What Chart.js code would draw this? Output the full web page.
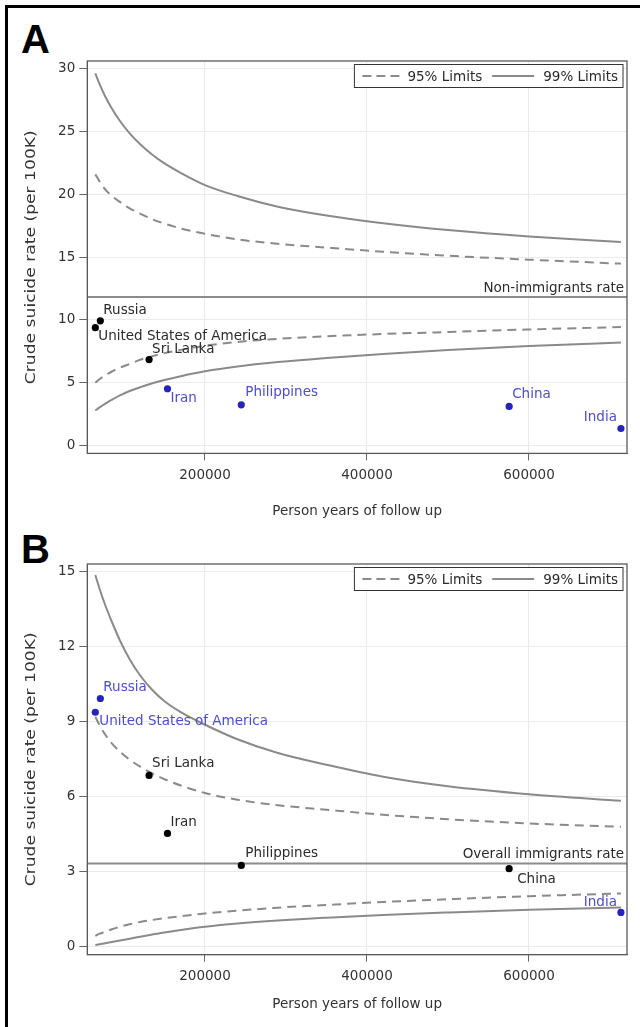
<!DOCTYPE html>
<html lang="en">
<head>
  <meta charset="UTF-8">
  <title>Crude suicide rate funnel plots</title>
  <script src="https://cdn.jsdelivr.net/npm/chart.js@4.4.1/dist/chart.umd.min.js"></script>
  <style>
    html, body { margin: 0; padding: 0; background: #fff; }
    body { width: 640px; height: 1027px; position: relative; overflow: hidden; }
    #frame {
      position: absolute; left: 5px; top: 5px; width: 700px; height: 1100px;
      border-left: 3px solid #000; border-top: 3px solid #000;
    }
    .panel-letter {
      position: absolute; left: 21px;
      font: bold 40px "Liberation Sans", Arial, sans-serif; line-height: 40px; color: #000;
    }
    canvas { position: absolute; left: 0; }
  </style>
</head>
<body>
  <div id="frame"></div>
  <div class="panel-letter" style="top:19px">A</div>
  <div class="panel-letter" style="top:529px">B</div>
  <canvas id="chartA" width="640" height="525" style="top:0"></canvas>
  <canvas id="chartB" width="640" height="502" style="top:525px"></canvas>

  <script>
    // countries, person years of follow up and crude rate (per 100K)
    const countries = ['Russia', 'United States of America', 'Sri Lanka', 'Iran', 'Philippines', 'China', 'India'];
    const personYears = [70800, 64600, 131000, 153700, 244800, 575500, 713500];
    const crudeRate = [9.93, 9.38, 6.85, 4.53, 3.25, 3.12, 1.37];

    // control limits, read along the person-years axis
    const limitYears = [64600, 70000, 77000, 85000, 95000, 107000, 120000, 135000, 150000, 170000,
                        200000, 240000, 290000, 350000, 420000, 500000, 600000, 713500];

    // panel A: against the non-immigrants rate
    const nonImmigrantRate = 11.83;
    const upper99A = [29.6, 28.72, 27.74, 26.8, 25.81, 24.83, 23.96, 23.13, 22.44, 21.69,
                      20.72, 19.85, 19.0, 18.3, 17.69, 17.15, 16.64, 16.2];
    const upper95A = [21.57, 21.0, 20.35, 19.85, 19.38, 18.87, 18.45, 18.0, 17.65, 17.27,
                      16.85, 16.4, 16.05, 15.75, 15.42, 15.1, 14.79, 14.47];
    const lower95A = [5.0, 5.3, 5.6, 5.9, 6.2, 6.5, 6.83, 7.12, 7.36, 7.62,
                      7.95, 8.25, 8.5, 8.7, 8.88, 9.04, 9.24, 9.43];
    const lower99A = [2.8, 3.05, 3.35, 3.65, 4.0, 4.35, 4.65, 4.97, 5.23, 5.53,
                      5.92, 6.3, 6.65, 6.98, 7.3, 7.6, 7.92, 8.2];

    // panel B: against the overall immigrants rate
    const immigrantRate = 3.33;
    const upper99B = [14.87, 14.3, 13.65, 13.0, 12.25, 11.5, 10.85, 10.27, 9.82, 9.38,
                      8.88, 8.3, 7.75, 7.28, 6.8, 6.42, 6.1, 5.84];
    const upper95B = [9.2, 8.85, 8.48, 8.13, 7.8, 7.48, 7.2, 6.93, 6.7, 6.45,
                      6.15, 5.88, 5.66, 5.48, 5.28, 5.1, 4.93, 4.8];
    const lower95B = [0.43, 0.52, 0.6, 0.7, 0.8, 0.9, 0.99, 1.07, 1.14, 1.22,
                      1.33, 1.44, 1.56, 1.67, 1.79, 1.9, 2.02, 2.13];
    const lower99B = [0.07, 0.1, 0.14, 0.19, 0.25, 0.32, 0.4, 0.49, 0.57, 0.67,
                      0.8, 0.93, 1.05, 1.16, 1.27, 1.37, 1.48, 1.57];

    const xTicks = [200000, 400000, 600000];
    const yTicksA = [0, 5, 10, 15, 20, 25, 30];
    const yTicksB = [0, 3, 6, 9, 12, 15];

    const FONT = '"DejaVu Sans", sans-serif';
    const FONT_SIZE = 13.5;
    const BLUE_PT = '#2424b8';
    const BLUE_TX = '#4d4dcc';
    const BLACK_PT = '#000';
    const BLACK_TX = '#2b2b2b';

    Chart.defaults.font.family = FONT;
    Chart.defaults.font.size = FONT_SIZE;
    Chart.defaults.color = '#333';

    const limitPoints = values => limitYears.map((x, i) => ({ x, y: values[i] }));

    // frame round the plot, y title, reference line label and the legend box
    const framePlugin = {
      id: 'frame',
      afterDraw(chart, args, opts) {
        const { ctx, chartArea: a } = chart;
        ctx.save();
        ctx.strokeStyle = '#5a5a5a';
        ctx.lineWidth = 1.3;
        ctx.strokeRect(a.left, a.top, a.right - a.left, a.bottom - a.top);

        ctx.font = FONT_SIZE + 'px ' + FONT;
        ctx.fillStyle = '#333';

        // y axis title, drawn a little drawn-out along its length like the original
        ctx.save();
        ctx.translate(31, (a.top + a.bottom) / 2);
        ctx.rotate(-Math.PI / 2);
        ctx.scale(1.27, 1);
        ctx.textAlign = 'center';
        ctx.textBaseline = 'middle';
        ctx.fillText('Crude suicide rate (per 100K)', 0, 0);
        ctx.restore();

        ctx.fillStyle = '#2b2b2b';
        const ry = chart.scales.y.getPixelForValue(opts.rate);
        ctx.textAlign = 'right';
        ctx.textBaseline = 'alphabetic';
        ctx.fillText(opts.rateLabel, a.right - 3, ry - 5);

        // legend
        const right = a.right - 4, top = a.top + 3.5, h = 23, midY = top + h / 2;
        const w99 = ctx.measureText('99% Limits').width;
        const w95 = ctx.measureText('95% Limits').width;
        const t99 = right - 5 - w99;
        const solidEnd = t99 - 9, solidStart = solidEnd - 42;
        const t95 = solidStart - 10 - w95;
        const dashEnd = t95 - 8, dashStart = dashEnd - 37;
        const boxLeft = dashStart - 8;
        ctx.fillStyle = '#fff';
        ctx.fillRect(boxLeft, top, right - boxLeft, h);
        ctx.strokeStyle = '#333';
        ctx.lineWidth = 1;
        ctx.strokeRect(boxLeft, top, right - boxLeft, h);
        ctx.strokeStyle = '#8a8a8a';
        ctx.lineWidth = 2;
        ctx.setLineDash([9, 5]);
        ctx.beginPath(); ctx.moveTo(dashStart, midY); ctx.lineTo(dashEnd, midY); ctx.stroke();
        ctx.setLineDash([]);
        ctx.beginPath(); ctx.moveTo(solidStart, midY); ctx.lineTo(solidEnd, midY); ctx.stroke();
        ctx.fillStyle = '#2b2b2b';
        ctx.textAlign = 'left';
        ctx.textBaseline = 'middle';
        ctx.fillText('95% Limits', t95, midY + 1);
        ctx.fillText('99% Limits', t99, midY + 1);
        ctx.restore();
      }
    };

    // country names next to the points
    const labelPlugin = {
      id: 'pointLabels',
      afterDatasetsDraw(chart, args, opts) {
        const ctx = chart.ctx;
        const meta = chart.getDatasetMeta(0);
        ctx.save();
        ctx.font = FONT_SIZE + 'px ' + FONT;
        ctx.textBaseline = 'middle';
        meta.data.forEach((pt, i) => {
          const [dx, dy] = opts.offsets[i];
          ctx.fillStyle = opts.colors[i];
          ctx.textAlign = dx < 0 ? 'right' : 'left';
          ctx.fillText(countries[i], pt.x + dx, pt.y + dy);
        });
        ctx.restore();
      }
    };

    const limitLine = { borderColor: '#8a8a8a', borderWidth: 2, pointRadius: 0, fill: false, cubicInterpolationMode: 'monotone', order: 2 };

    function buildChart(id, p) {
      const xMin = 54700, xMax = 721000;
      return new Chart(document.getElementById(id), {
        type: 'line',
        data: {
          datasets: [
            {
              type: 'scatter',
              data: personYears.map((x, i) => ({ x, y: crudeRate[i] })),
              pointBackgroundColor: p.pointColors,
              pointBorderWidth: 0,
              pointRadius: 3.6,
              order: 0
            },
            { ...limitLine, data: limitPoints(p.upper95), borderDash: [9, 6] },
            { ...limitLine, data: limitPoints(p.upper99) },
            { ...limitLine, data: limitPoints(p.lower95), borderDash: [9, 6] },
            { ...limitLine, data: limitPoints(p.lower99) },
            { ...limitLine, data: [{ x: xMin, y: p.rate }, { x: xMax, y: p.rate }], borderColor: '#8c8c8c' }
          ]
        },
        options: {
          responsive: false,
          animation: false,
          layout: { padding: { top: p.padTop, right: 13, left: 0, bottom: 0 } },
          plugins: {
            legend: { display: false },
            tooltip: { enabled: false },
            pointLabels: { offsets: p.labelOffsets, colors: p.labelColors },
            frame: { rate: p.rate, rateLabel: p.rateLabel }
          },
          scales: {
            x: {
              type: 'linear',
              min: xMin,
              max: xMax,
              afterBuildTicks: s => { s.ticks = xTicks.map(v => ({ value: v })); },
              afterFit: s => { s.height = p.xAxisHeight; },
              grid: { color: '#ebebeb', tickLength: 7, tickColor: '#666' },
              border: { color: '#5a5a5a' },
              ticks: { padding: 7, maxRotation: 0, callback: v => String(v) },
              title: { display: true, text: 'Person years of follow up', padding: { top: 0, bottom: p.xTitlePad } }
            },
            y: {
              min: p.yMin,
              max: p.yMax,
              afterBuildTicks: s => { s.ticks = p.yTicks.map(v => ({ value: v })); },
              afterFit: s => { s.width = 87.3; },
              grid: { color: '#ebebeb', tickLength: 8, tickColor: '#666' },
              border: { color: '#5a5a5a' },
              ticks: { padding: 4, callback: v => String(v) }
            }
          }
        },
        plugins: [framePlugin, labelPlugin]
      });
    }

    buildChart('chartA', {
      padTop: 61, xAxisHeight: 71.6, xTitlePad: 5,
      yMin: -0.61, yMax: 30.58, yTicks: yTicksA,
      upper95: upper95A, upper99: upper99A, lower95: lower95A, lower99: lower99A,
      rate: nonImmigrantRate, rateLabel: 'Non-immigrants rate',
      pointColors: [BLACK_PT, BLACK_PT, BLACK_PT, BLUE_PT, BLUE_PT, BLUE_PT, BLUE_PT],
      labelColors: [BLACK_TX, BLACK_TX, BLACK_TX, BLUE_TX, BLUE_TX, BLUE_TX, BLUE_TX],
      labelOffsets: [[3, -10], [3, 9], [3, -10], [3, 10], [4, -12], [3, -12], [-4, -11]]
    });

    buildChart('chartB', {
      padTop: 39, xAxisHeight: 72.3, xTitlePad: 14,
      yMin: -0.32, yMax: 15.31, yTicks: yTicksB,
      upper95: upper95B, upper99: upper99B, lower95: lower95B, lower99: lower99B,
      rate: immigrantRate, rateLabel: 'Overall immigrants rate',
      pointColors: [BLUE_PT, BLUE_PT, BLACK_PT, BLACK_PT, BLACK_PT, BLACK_PT, BLUE_PT],
      labelColors: [BLUE_TX, BLUE_TX, BLACK_TX, BLACK_TX, BLACK_TX, BLACK_TX, BLUE_TX],
      labelOffsets: [[3, -11], [4, 9], [3, -12], [3, -11], [4, -12], [8, 11], [-4, -10]]
    });
  </script>
</body>
</html>
